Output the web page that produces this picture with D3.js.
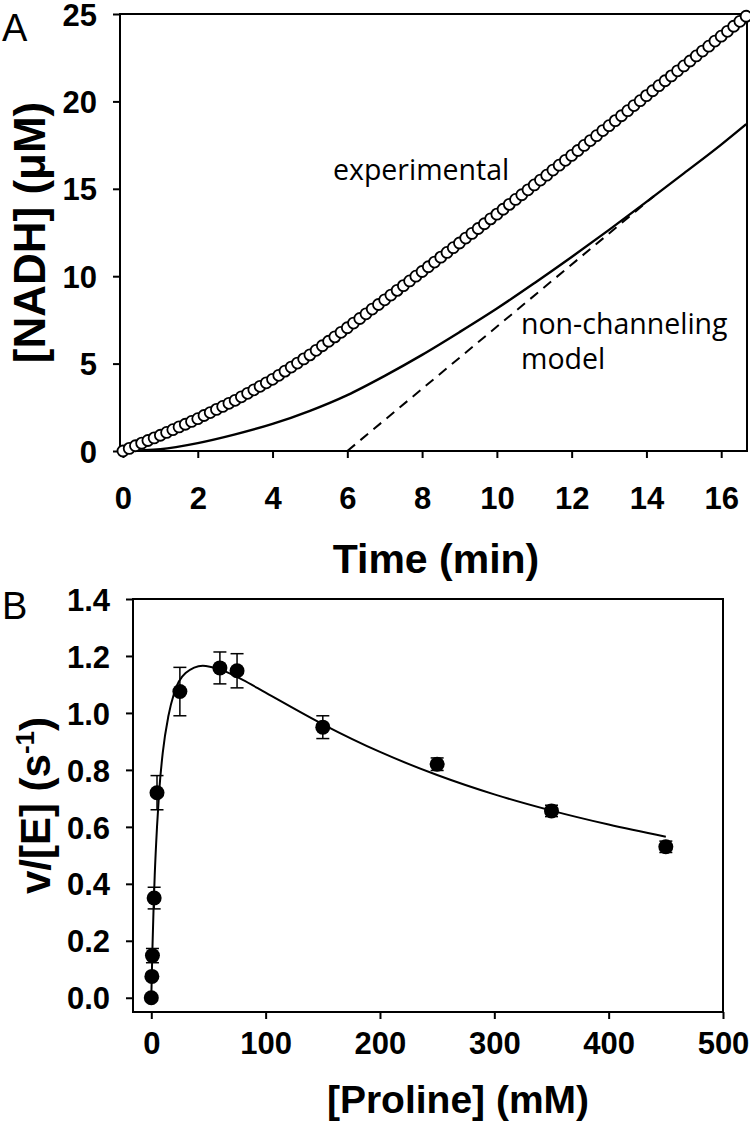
<!DOCTYPE html>
<html>
<head>
<meta charset="utf-8">
<script src="https://cdn.jsdelivr.net/npm/d3@7"></script>
<style>
  html, body { margin: 0; padding: 0; background: #fff; }
  svg { display: block; }
  .tick text { font-family: "Liberation Sans", Arial, sans-serif; font-weight: bold; font-size: 31px; fill: #000; }
</style>
</head>
<body>
<svg id="chart" width="750" height="1135"></svg>
<script>
// ---------- Panel A data ----------
const timeTicks = [0, 2, 4, 6, 8, 10, 12, 14, 16];
const nadhTicks = [0, 5, 10, 15, 20, 25];
// experimental readings, one every 10 s (time in min = index / 6)
const experimentalNADH = [
  0.00, 0.15, 0.30, 0.45, 0.60, 0.75,
  0.90, 1.06, 1.22, 1.38, 1.53, 1.69,
  1.85, 2.03, 2.20, 2.38, 2.55, 2.73,
  2.90, 3.10, 3.30, 3.50, 3.70, 3.90,
  4.10, 4.33, 4.57, 4.80, 5.03, 5.27,
  5.50, 5.76, 6.02, 6.28, 6.53, 6.79,
  7.05, 7.32, 7.58, 7.85, 8.12, 8.38,
  8.65, 8.92, 9.19, 9.46, 9.73, 10.00,
  10.27, 10.54, 10.81, 11.09, 11.36, 11.63,
  11.90, 12.18, 12.45, 12.73, 13.00, 13.28,
  13.55, 13.83, 14.11, 14.39, 14.66, 14.94,
  15.22, 15.50, 15.78, 16.07, 16.35, 16.63,
  16.91, 17.19, 17.48, 17.76, 18.04, 18.33,
  18.61, 18.90, 19.18, 19.47, 19.76, 20.04,
  20.33, 20.61, 20.90, 21.18, 21.46, 21.75,
  22.03, 22.31, 22.60, 22.88, 23.16, 23.45,
  23.73, 24.01, 24.30, 24.58, 24.87
];
const experimentalTime = experimentalNADH.map((_, i) => i / 6);
// non-channeling model curve
const modelTime = [0, 1, 2, 3, 4, 5, 6, 7, 8, 9, 10, 11, 12, 13, 14, 15, 16, 16.67];
const modelNADH = [0, 0.10, 0.45, 0.95, 1.55, 2.30, 3.20, 4.30, 5.50, 6.80, 8.15, 9.60, 11.10, 12.65, 14.25, 15.88, 17.53, 18.70];
// steady-state asymptote (dashed)
const asymptoteTime = [6.0, 14.2];
const asymptoteNADH = [0, 14.58];

// ---------- Panel B data ----------
const prolineTicks = [0, 100, 200, 300, 400, 500];
const rateTicks = [0.0, 0.2, 0.4, 0.6, 0.8, 1.0, 1.2, 1.4];
const proline = [0, 0.5, 1, 2.5, 5, 25, 60, 75, 150, 250, 350, 450];
const rate = [0.0, 0.075, 0.148, 0.35, 0.72, 1.075, 1.158, 1.148, 0.95, 0.82, 0.656, 0.53];
const rateErr = [0, 0, 0.025, 0.038, 0.06, 0.085, 0.056, 0.06, 0.04, 0.022, 0.02, 0.02];
const fitProline = [0, 1, 2, 3, 5, 7, 10, 15, 20, 30, 45, 60, 80, 100, 150, 200, 250, 300, 350, 400, 450];
const fitRate = [0, 0.175, 0.315, 0.43, 0.60, 0.73, 0.86, 0.99, 1.07, 1.14, 1.166, 1.153, 1.116, 1.071, 0.96, 0.863, 0.782, 0.714, 0.657, 0.608, 0.565];

const svg = d3.select("#chart");
const FONT = '"Liberation Sans", Arial, sans-serif';

// ================= Panel A =================
const xA = d3.scaleLinear().domain([-0.08, 16.69]).range([120, 747]);
const yA = d3.scaleLinear().domain([0, 25]).range([451, 14]);
const gA = svg.append("g");

gA.append("rect")
  .attr("x", xA.range()[0]).attr("y", yA.range()[1])
  .attr("width", xA.range()[1] - xA.range()[0])
  .attr("height", yA.range()[0] - yA.range()[1])
  .attr("fill", "none").attr("stroke", "#000").attr("stroke-width", 2);

const axA_x = gA.append("g").attr("transform", `translate(0,${yA.range()[0]})`)
  .call(d3.axisBottom(xA).tickValues(timeTicks).tickFormat(d3.format("d")).tickSize(7).tickSizeOuter(0));
axA_x.select(".domain").remove();
axA_x.selectAll(".tick line").attr("stroke", "#000").attr("stroke-width", 2);
axA_x.selectAll(".tick text").attr("y", 58).attr("dy", 0);

const axA_y = gA.append("g").attr("transform", `translate(${xA.range()[0]},0)`)
  .call(d3.axisLeft(yA).tickValues(nadhTicks).tickFormat(d3.format("d")).tickSize(7).tickSizeOuter(0));
axA_y.select(".domain").remove();
axA_y.selectAll(".tick line").attr("stroke", "#000").attr("stroke-width", 2);
axA_y.selectAll(".tick text").attr("x", -23).attr("dy", "0.36em");

const lineA = d3.line().x(d => xA(d[0])).y(d => yA(d[1]));
gA.append("path")
  .datum(modelTime.map((t, i) => [t, modelNADH[i]]))
  .attr("d", lineA.curve(d3.curveMonotoneX))
  .attr("fill", "none").attr("stroke", "#000").attr("stroke-width", 2.4);
gA.append("path")
  .datum(asymptoteTime.map((t, i) => [t, asymptoteNADH[i]]))
  .attr("d", d3.line().x(d => xA(d[0])).y(d => yA(d[1])))
  .attr("fill", "none").attr("stroke", "#000").attr("stroke-width", 2)
  .attr("stroke-dasharray", "10,7");

gA.append("g").selectAll("circle")
  .data(experimentalTime.map((t, i) => [t, experimentalNADH[i]]))
  .join("circle")
  .attr("cx", d => xA(d[0])).attr("cy", d => yA(d[1])).attr("r", 5.5)
  .attr("fill", "#fff").attr("stroke", "#000").attr("stroke-width", 1.8);

gA.append("text").attr("x", 2).attr("y", 41)
  .attr("font-family", FONT).attr("font-size", 38).text("A");
gA.append("text")
  .attr("transform", `translate(45,${(yA.range()[0] + yA.range()[1]) / 2}) rotate(-90)`)
  .attr("text-anchor", "middle").attr("font-family", FONT).attr("font-weight", "bold")
  .attr("font-size", 44).text("[NADH] (\u03BCM)");
gA.append("text").attr("x", 436).attr("y", 573).attr("text-anchor", "middle")
  .attr("font-family", FONT).attr("font-weight", "bold").attr("font-size", 41).text("Time (min)");
const ANN = '"Open Sans", "Noto Sans", sans-serif';
gA.append("text").attr("x", 333).attr("y", 180).attr("font-family", ANN).attr("font-size", 28.5).text("experimental");
gA.append("text").attr("x", 521).attr("y", 334).attr("font-family", ANN).attr("font-size", 28.5).text("non-channeling");
gA.append("text").attr("x", 521).attr("y", 369).attr("font-family", ANN).attr("font-size", 28.5).text("model");

// ================= Panel B =================
const xB = d3.scaleLinear().domain([-16, 500]).range([133, 723]);
const yB = d3.scaleLinear().domain([-0.05, 1.4]).range([1012, 599]);
const gB = svg.append("g");

gB.append("rect")
  .attr("x", xB.range()[0]).attr("y", yB.range()[1])
  .attr("width", xB.range()[1] - xB.range()[0])
  .attr("height", yB.range()[0] - yB.range()[1])
  .attr("fill", "none").attr("stroke", "#000").attr("stroke-width", 2);

const axB_x = gB.append("g").attr("transform", `translate(0,${yB.range()[0]})`)
  .call(d3.axisBottom(xB).tickValues(prolineTicks).tickFormat(d3.format("d")).tickSize(7).tickSizeOuter(0));
axB_x.select(".domain").remove();
axB_x.selectAll(".tick line").attr("stroke", "#000").attr("stroke-width", 2);
axB_x.selectAll(".tick text").attr("y", 42).attr("dy", 0);

const axB_y = gB.append("g").attr("transform", `translate(${xB.range()[0]},0)`)
  .call(d3.axisLeft(yB).tickValues(rateTicks).tickFormat(d3.format(".1f")).tickSize(7).tickSizeOuter(0));
axB_y.select(".domain").remove();
axB_y.selectAll(".tick line").attr("stroke", "#000").attr("stroke-width", 2);
axB_y.selectAll(".tick text").attr("x", -23).attr("dy", "0.36em");

gB.append("path")
  .datum(fitProline.map((p, i) => [p, fitRate[i]]))
  .attr("d", d3.line().x(d => xB(d[0])).y(d => yB(d[1])).curve(d3.curveMonotoneX))
  .attr("fill", "none").attr("stroke", "#000").attr("stroke-width", 2);

const pts = proline.map((p, i) => ({ x: p, y: rate[i], e: rateErr[i] }));
const eb = gB.append("g").selectAll("g").data(pts.filter(d => d.e > 0)).join("g");
eb.append("line").attr("x1", d => xB(d.x)).attr("x2", d => xB(d.x))
  .attr("y1", d => yB(d.y - d.e)).attr("y2", d => yB(d.y + d.e))
  .attr("stroke", "#000").attr("stroke-width", 1.5);
eb.append("line").attr("x1", d => xB(d.x) - 6.5).attr("x2", d => xB(d.x) + 6.5)
  .attr("y1", d => yB(d.y + d.e)).attr("y2", d => yB(d.y + d.e))
  .attr("stroke", "#000").attr("stroke-width", 1.5);
eb.append("line").attr("x1", d => xB(d.x) - 6.5).attr("x2", d => xB(d.x) + 6.5)
  .attr("y1", d => yB(d.y - d.e)).attr("y2", d => yB(d.y - d.e))
  .attr("stroke", "#000").attr("stroke-width", 1.5);

gB.append("g").selectAll("circle").data(pts).join("circle")
  .attr("cx", d => xB(d.x)).attr("cy", d => yB(d.y)).attr("r", 7.5).attr("fill", "#000");

gB.append("text").attr("x", 2).attr("y", 619)
  .attr("font-family", FONT).attr("font-size", 38).text("B");
const yLabB = gB.append("text")
  .attr("transform", `translate(50,${(yB.range()[0] + yB.range()[1]) / 2}) rotate(-90)`)
  .attr("text-anchor", "middle").attr("font-family", FONT).attr("font-weight", "bold")
  .attr("font-size", 42);
yLabB.append("tspan").text("v/[E] (s");
yLabB.append("tspan").attr("font-size", 26).attr("dy", -16).text("-1");
yLabB.append("tspan").attr("dy", 16).text(")");
gB.append("text").attr("x", 458).attr("y", 1113).attr("text-anchor", "middle")
  .attr("font-family", FONT).attr("font-weight", "bold").attr("font-size", 39).text("[Proline] (mM)");
</script>
</body>
</html>
